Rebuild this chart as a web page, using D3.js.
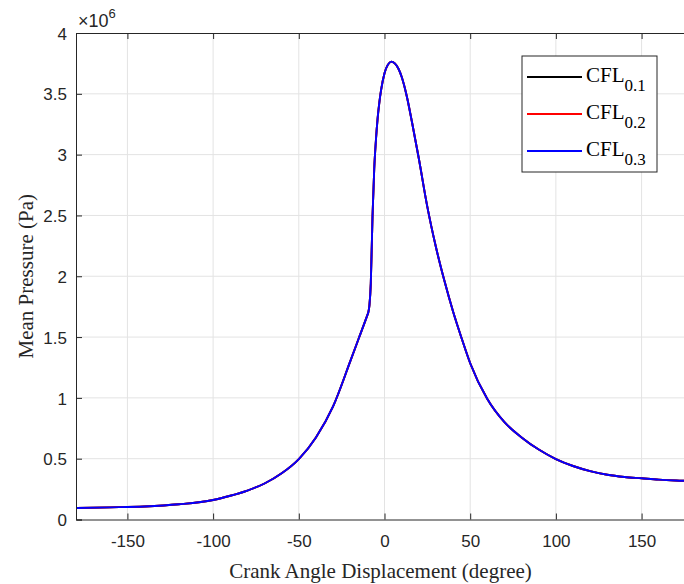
<!DOCTYPE html>
<html>
<head>
<meta charset="utf-8">
<script src="https://cdn.jsdelivr.net/npm/d3@7"></script>
<style>
  html, body { margin: 0; padding: 0; background: #fff; }
  svg { display: block; }
</style>
</head>
<body>
<svg id="chart" width="684" height="584"></svg>
<script>
// ---------- data ----------
const crankAngle = [-180, -160, -140, -120, -100, -90, -80, -70, -60, -50, -40, -30, -20, -15, -10, -9.5, -8.8, -8, -7, -6, -5, -4, -3, -2, 0, 2, 4, 6, 8, 10, 13, 16, 20, 25, 30, 35, 40, 45, 50, 60, 70, 80, 90, 100, 110, 120, 130, 140, 150, 160, 170, 180];
// mean pressure in units of 1e6 Pa (the three CFL runs overlap)
const pressureCFL01 = [0.095, 0.100, 0.107, 0.125, 0.160, 0.195, 0.238, 0.296, 0.380, 0.497, 0.675, 0.93, 1.30, 1.49, 1.68, 1.70, 1.76, 1.94, 2.49, 2.88, 3.12, 3.30, 3.43, 3.53, 3.67, 3.74, 3.765, 3.75, 3.71, 3.64, 3.48, 3.27, 2.97, 2.57, 2.24, 1.96, 1.71, 1.49, 1.285, 0.99, 0.80, 0.675, 0.575, 0.497, 0.44, 0.398, 0.368, 0.350, 0.339, 0.328, 0.321, 0.317];
const pressureCFL02 = pressureCFL01.slice();
const pressureCFL03 = pressureCFL01.slice();
const seriesNames = ["CFL", "CFL", "CFL"];
const seriesSubs = ["0.1", "0.2", "0.3"];
const seriesColors = ["#000000", "#ff0000", "#0000ff"];
const xTicks = [-150, -100, -50, 0, 50, 100, 150];
const yTicks = [0, 0.5, 1, 1.5, 2, 2.5, 3, 3.5, 4];
const yTickLabels = ["0", "0.5", "1", "1.5", "2", "2.5", "3", "3.5", "4"];
const xTitle = "Crank Angle Displacement (degree)";
const yTitle = "Mean Pressure (Pa)";

// ---------- layout ----------
const L = 76, R = 693, T = 33, B = 519.5;
const axisColor = "#262626";
const gridColor = "#e3e3e3";

const svg = d3.select("#chart");
const x = d3.scaleLinear().domain([-180, 180]).range([L, R]);
const y = d3.scaleLinear().domain([0, 4]).range([B, T]);

// grid
const grid = svg.append("g");
grid.selectAll("line.vx").data(xTicks).join("line")
  .attr("x1", d => x(d)).attr("x2", d => x(d)).attr("y1", T).attr("y2", B)
  .attr("stroke", gridColor).attr("stroke-width", 1);
grid.selectAll("line.hy").data(yTicks.filter(d => d > 0 && d < 4)).join("line")
  .attr("x1", L).attr("x2", R).attr("y1", d => y(d)).attr("y2", d => y(d))
  .attr("stroke", gridColor).attr("stroke-width", 1);

// series
const allSeries = [pressureCFL01, pressureCFL02, pressureCFL03];
svg.append("clipPath").attr("id", "clip").append("rect")
  .attr("x", L).attr("y", T).attr("width", R - L).attr("height", B - T);
const line = d3.line().x((d, i) => x(crankAngle[i])).y(d => y(d)).curve(d3.curveMonotoneX);
svg.append("g").attr("clip-path", "url(#clip)")
  .selectAll("path").data(allSeries).join("path")
  .attr("d", d => line(d))
  .attr("fill", "none")
  .attr("stroke", (d, i) => seriesColors[i])
  .attr("stroke-width", 1.9)
  .attr("stroke-linejoin", "round");

// axes
const xAxis = d3.axisBottom(x).tickValues(xTicks).tickSize(-6).tickPadding(15)
  .tickFormat(d => String(d));
const gx = svg.append("g").attr("transform", `translate(0,${B})`).call(xAxis);
const yAxis = d3.axisLeft(y).tickValues(yTicks).tickSize(-6).tickPadding(9)
  .tickFormat((d, i) => yTickLabels[i]);
const gy = svg.append("g").attr("transform", `translate(${L},0)`).call(yAxis);
[gx, gy].forEach(g => {
  g.select(".domain").attr("stroke", axisColor).attr("stroke-width", 1);
  g.selectAll(".tick line").attr("stroke", axisColor);
  g.selectAll(".tick text").attr("fill", axisColor)
    .style("font-family", "'Liberation Sans', Arial, sans-serif").style("font-size", "17px");
});
gy.selectAll(".tick text").attr("dy", "0.36em");
// top box edge with ticks
const gt = svg.append("g").attr("transform", `translate(0,${T})`)
  .call(d3.axisTop(x).tickValues(xTicks).tickSize(-6).tickFormat(""));
gt.select(".domain").attr("stroke", axisColor);
gt.selectAll(".tick line").attr("stroke", axisColor);

// exponent label
const ex = svg.append("text").attr("x", 78).attr("y", 27)
  .attr("fill", axisColor)
  .style("font-family", "'Liberation Sans', Arial, sans-serif").style("font-size", "18px");
ex.append("tspan").text("\u00d710");
ex.append("tspan").attr("dy", -9).style("font-size", "13px").text("6");

// titles
svg.append("text").attr("x", (L + R) / 2 - 4).attr("y", 578)
  .attr("text-anchor", "middle").attr("fill", axisColor)
  .style("font-family", "'Liberation Serif', 'Times New Roman', serif").style("font-size", "21px")
  .text(xTitle);
svg.append("text")
  .attr("transform", `translate(33,${(T + B) / 2}) rotate(-90)`)
  .attr("text-anchor", "middle").attr("fill", axisColor)
  .style("font-family", "'Liberation Serif', 'Times New Roman', serif").style("font-size", "21px")
  .text(yTitle);

// legend
const lg = svg.append("g");
lg.append("rect").attr("x", 522).attr("y", 56).attr("width", 135).attr("height", 116)
  .attr("fill", "#fff").attr("stroke", axisColor).attr("stroke-width", 1);
const rowY = [77, 114, 151];
seriesNames.forEach((name, i) => {
  lg.append("line").attr("x1", 527).attr("x2", 582).attr("y1", rowY[i]).attr("y2", rowY[i])
    .attr("stroke", seriesColors[i]).attr("stroke-width", 1.8);
  const t = lg.append("text").attr("x", 586).attr("y", rowY[i] + 5)
    .attr("fill", "#000")
    .style("font-family", "'Liberation Serif', 'Times New Roman', serif").style("font-size", "21px");
  t.append("tspan").text(name);
  t.append("tspan").attr("dy", 9).style("font-size", "17px").text(seriesSubs[i]);
});
</script>
</body>
</html>
